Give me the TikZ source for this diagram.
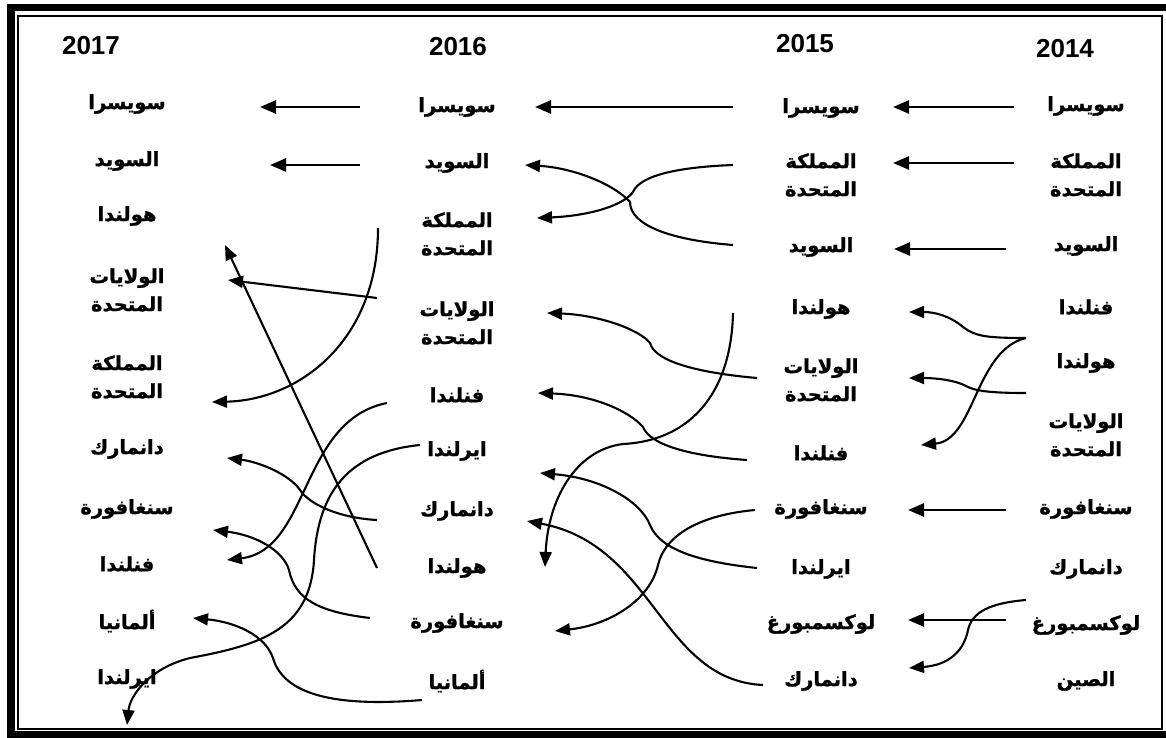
\documentclass[tikz,border=0pt]{standalone}
\usepackage{fontspec}
\usetikzlibrary{arrows.meta}
\TeXXeTstate=1
\newfontfamily\arabicfont[Script=Arabic, BoldFeatures={FakeBold=1.2}]{DejaVu Sans}
\newfontfamily\yearfont{Liberation Sans}
\newcommand{\rl}[1]{\beginR #1\endR}
\tikzset{
  country/.style={font=\arabicfont\bfseries\fontsize{19.5}{28}\selectfont, align=center, inner sep=0pt},
  year/.style={font=\yearfont\bfseries\fontsize{26}{28}\selectfont, inner sep=0pt},
  straight/.style={line width=2.6pt, -{Triangle[length=16pt,width=13pt]}},
  bent/.style={line width=2.1pt, -{Triangle[length=15pt,width=12pt]}},
}
\begin{document}
\begin{tikzpicture}[x=1pt,y=-1pt]
\useasboundingbox (0,0) rectangle (1166,738);
\clip (0,0) rectangle (1166,738);
% double frame
\draw[line width=7.5pt] (11,7.5) rectangle (1185,734.5);
\draw[line width=2pt] (18,16) rectangle (1161.5,728.5);

% years
\node[year] (y17) at (91,46) {2017};
\node[year] (y16) at (458,47) {2016};
\node[year] (y15) at (805,44) {2015};
\node[year] (y14) at (1065,49) {2014};

% 2017
\node[country] (a1) at (127,104) {\rl{سويسرا}};
\node[country] (a2) at (127,161) {\rl{السويد}};
\node[country] (a3) at (127,216) {\rl{هولندا}};
\node[country] (a4) at (127,290) {\rl{الولايات}\\\rl{المتحدة}};
\node[country] (a5) at (127,377) {\rl{المملكة}\\\rl{المتحدة}};
\node[country] (a6) at (127,449) {\rl{دانمارك}};
\node[country] (a7) at (127,509) {\rl{سنغافورة}};
\node[country] (a8) at (127,564) {\rl{فنلندا}};
\node[country] (a9) at (127,621) {\rl{ألمانيا}};
\node[country] (a10) at (127,679) {\rl{ايرلندا}};

% 2016
\node[country] (b1) at (457,107) {\rl{سويسرا}};
\node[country] (b2) at (457,163) {\rl{السويد}};
\node[country] (b3) at (457,234) {\rl{المملكة}\\\rl{المتحدة}};
\node[country] (b4) at (457,323) {\rl{الولايات}\\\rl{المتحدة}};
\node[country] (b5) at (457,395) {\rl{فنلندا}};
\node[country] (b6) at (457,451) {\rl{ايرلندا}};
\node[country] (b7) at (457,511) {\rl{دانمارك}};
\node[country] (b8) at (457,568) {\rl{هولندا}};
\node[country] (b9) at (457,623) {\rl{سنغافورة}};
\node[country] (b10) at (457,681) {\rl{ألمانيا}};

% 2015
\node[country] (c1) at (821,108) {\rl{سويسرا}};
\node[country] (c2) at (821,175) {\rl{المملكة}\\\rl{المتحدة}};
\node[country] (c3) at (821,247) {\rl{السويد}};
\node[country] (c4) at (821,309) {\rl{هولندا}};
\node[country] (c5) at (821,380) {\rl{الولايات}\\\rl{المتحدة}};
\node[country] (c6) at (821,453) {\rl{فنلندا}};
\node[country] (c7) at (821,509) {\rl{سنغافورة}};
\node[country] (c8) at (821,569) {\rl{ايرلندا}};
\node[country] (c9) at (821,624) {\rl{لوكسمبورغ}};
\node[country] (c10) at (821,681) {\rl{دانمارك}};

% 2014
\node[country] (d1) at (1086,106) {\rl{سويسرا}};
\node[country] (d2) at (1086,175) {\rl{المملكة}\\\rl{المتحدة}};
\node[country] (d3) at (1086,246) {\rl{السويد}};
\node[country] (d4) at (1086,307) {\rl{فنلندا}};
\node[country] (d5) at (1086,363) {\rl{هولندا}};
\node[country] (d6) at (1086,435) {\rl{الولايات}\\\rl{المتحدة}};
\node[country] (d7) at (1086,509) {\rl{سنغافورة}};
\node[country] (d8) at (1086,569) {\rl{دانمارك}};
\node[country] (d9) at (1086,625) {\rl{لوكسمبورغ}};
\node[country] (d10) at (1086,681) {\rl{الصين}};

% ---- links 2014 -> 2015 ----
\coordinate (p1s) at (1014,107); \coordinate (p1e) at (893,107);
\coordinate (p2s) at (1014,163); \coordinate (p2e) at (893,163);
\coordinate (p3s) at (1006,249); \coordinate (p3e) at (894,249);
\coordinate (p4s) at (1026,338); \coordinate (p4e) at (909,312);
\coordinate (p5e) at (921,445);
\coordinate (p6s) at (1026,393); \coordinate (p6e) at (909,378);
\coordinate (p7s) at (1006,510); \coordinate (p7e) at (908,510);
\coordinate (p8s) at (1006,620); \coordinate (p8e) at (908,620);
\coordinate (p9s) at (1026,600); \coordinate (p9e) at (909,668);
\draw[straight] (p1s) -- (p1e);
\draw[straight] (p2s) -- (p2e);
\draw[straight] (p3s) -- (p3e);
\draw[bent] (p4s) .. controls (985,338) and (975,336) .. (963,327) .. controls (950,316) and (935,312) .. (p4e);
\draw[bent] (p4s) .. controls (975,350) and (975,440) .. (p5e);
\draw[bent] (p6s) .. controls (990,393) and (975,391) .. (966,386) .. controls (955,380) and (935,378) .. (p6e);
\draw[straight] (p7s) -- (p7e);
\draw[straight] (p8s) -- (p8e);
\draw[bent] (p9s) .. controls (990,603) and (972,612) .. (968,630) .. controls (964,650) and (950,665) .. (p9e);

% ---- links 2015 -> 2016 ----
\coordinate (q1s) at (733,107); \coordinate (q1e) at (535,107);
\coordinate (q2s) at (733,245); \coordinate (q2e) at (525,165);
\coordinate (q3s) at (733,165); \coordinate (q3e) at (537,218);
\coordinate (q4s) at (757,378); \coordinate (q4e) at (547,313);
\coordinate (q5s) at (747,460); \coordinate (q5e) at (538,393);
\coordinate (q6s) at (733,313); \coordinate (q6e) at (545,567);
\coordinate (q7s) at (757,568); \coordinate (q7e) at (540,473);
\coordinate (q8s) at (763,685); \coordinate (q8e) at (527,521);
\coordinate (q9s) at (755,510); \coordinate (q9e) at (555,631);
\draw[straight] (q1s) -- (q1e);
\draw[bent] (q2s) .. controls (670,240) and (630,225) .. (630,202) .. controls (615,185) and (575,168) .. (q2e);
\draw[bent] (q3s) .. controls (680,167) and (640,175) .. (633,192) .. controls (622,207) and (585,216) .. (q3e);
\draw[bent] (q4s) .. controls (700,373) and (655,362) .. (650,343) .. controls (640,330) and (600,315) .. (q4e);
\draw[bent] (q5s) .. controls (690,456) and (650,445) .. (643,427) .. controls (630,412) and (595,395) .. (q5e);
\draw[bent] (q6s) .. controls (731,398) and (686,441) .. (623,444) .. controls (575,450) and (548,500) .. (q6e);
\draw[bent] (q7s) .. controls (700,562) and (660,550) .. (650,525) .. controls (640,500) and (600,478) .. (q7e);
\draw[bent] (q8s) .. controls (660,680) and (655,545) .. (q8e);
\draw[bent] (q9s) .. controls (700,515) and (665,535) .. (658,565) .. controls (650,600) and (610,625) .. (q9e);

% ---- links 2016 -> 2017 ----
\coordinate (r1s) at (360,107); \coordinate (r1e) at (260,107);
\coordinate (r2s) at (360,165); \coordinate (r2e) at (270,165);
\coordinate (r3s) at (378,228); \coordinate (r3e) at (212,402);
\coordinate (r4s) at (377,298); \coordinate (r4e) at (228,280);
\coordinate (r5s) at (377,568); \coordinate (r5e) at (225,245);
\coordinate (r6s) at (387,403); \coordinate (r6e) at (227,560);
\coordinate (r7s) at (420,445); \coordinate (r7e) at (127,725);
\coordinate (r8s) at (377,520); \coordinate (r8e) at (227,458);
\coordinate (r9s) at (370,618); \coordinate (r9e) at (213,530);
\coordinate (r10s) at (422,700); \coordinate (r10e) at (193,618);
\draw[straight] (r1s) -- (r1e);
\draw[straight] (r2s) -- (r2e);
\draw[bent] (r3s) .. controls (378,340) and (300,400) .. (r3e);
\draw[bent] (r4s) -- (r4e);
\draw[bent] (r5s) -- (r5e);
\draw[bent] (r6s) .. controls (300,420) and (310,550) .. (r6e);
\draw[bent] (r7s) .. controls (350,452) and (318,490) .. (314,560) .. controls (310,630) and (260,645) .. (190,658) .. controls (150,668) and (130,695) .. (r7e);
\draw[bent] (r8s) .. controls (340,518) and (310,505) .. (300,490) .. controls (290,475) and (260,462) .. (r8e);
\draw[bent] (r9s) .. controls (320,612) and (295,600) .. (289,570) .. controls (283,550) and (255,535) .. (r9e);
\draw[bent] (r10s) .. controls (350,706) and (285,700) .. (273,658) .. controls (265,635) and (235,622) .. (r10e);
\end{tikzpicture}
\end{document}
